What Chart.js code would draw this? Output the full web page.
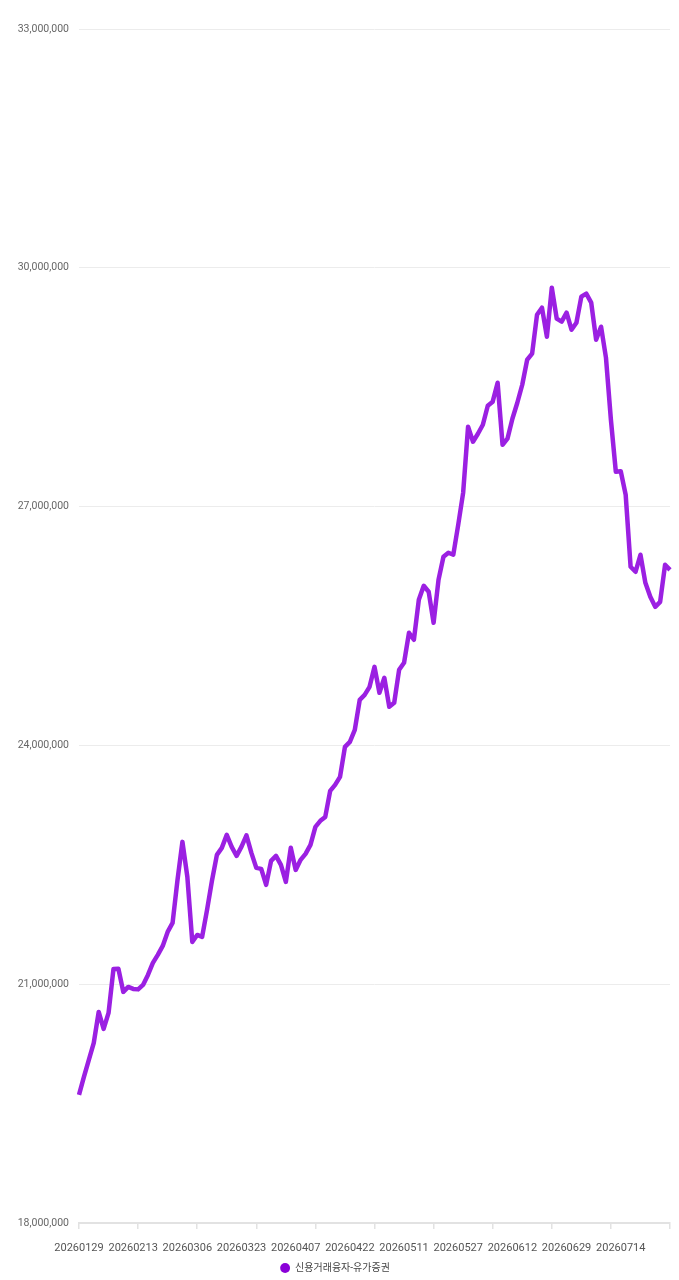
<!DOCTYPE html>
<html>
<head>
<meta charset="utf-8">
<script src="https://cdn.jsdelivr.net/npm/chart.js@4/dist/chart.umd.min.js"></script>
<style>
  html, body { margin: 0; padding: 0; background: #fff; overflow: hidden; }
  #wrap { width: 679px; height: 1280px; position: relative; }
  #c { display: block; }
</style>
</head>
<body>
<div id="wrap"><canvas id="c"></canvas></div>
<script>
const dates = [
  '20260129','20260130','20260202','20260203','20260204','20260205','20260206','20260209','20260210','20260211',
  '20260212','20260213','20260219','20260220','20260223','20260224','20260225','20260226','20260227','20260303',
  '20260304','20260305','20260306','20260309','20260310','20260311','20260312','20260313','20260316','20260317',
  '20260318','20260319','20260320','20260323','20260324','20260325','20260326','20260327','20260330','20260331',
  '20260401','20260402','20260403','20260406','20260407','20260408','20260409','20260410','20260413','20260414',
  '20260415','20260416','20260417','20260420','20260421','20260422','20260423','20260424','20260427','20260428',
  '20260429','20260430','20260504','20260506','20260507','20260508','20260511','20260512','20260513','20260514',
  '20260515','20260518','20260519','20260520','20260521','20260522','20260526','20260527','20260528','20260529',
  '20260601','20260602','20260604','20260605','20260608','20260609','20260610','20260611','20260612','20260615',
  '20260616','20260617','20260618','20260619','20260622','20260623','20260624','20260625','20260626','20260629',
  '20260630','20260701','20260702','20260703','20260706','20260707','20260708','20260709','20260710','20260713',
  '20260714','20260715','20260716','20260717','20260720','20260721','20260722','20260723','20260724','20260727',
  '20260728'
];
const creditLoanKospi = [
  19609000,19835000,20048000,20262000,20652000,20438000,20639000,21192000,21195000,20903000,
  20966000,20941000,20935000,20991000,21117000,21267000,21368000,21481000,21657000,21770000,
  22310000,22788000,22348000,21531000,21619000,21594000,21933000,22300000,22625000,22713000,
  22876000,22725000,22612000,22728000,22870000,22650000,22461000,22449000,22248000,22549000,
  22612000,22499000,22285000,22713000,22436000,22562000,22637000,22750000,22977000,23052000,
  23102000,23429000,23504000,23605000,23982000,24045000,24196000,24573000,24635000,24736000,
  24987000,24661000,24849000,24485000,24535000,24950000,25038000,25415000,25327000,25829000,
  26005000,25930000,25540000,26081000,26370000,26420000,26395000,26772000,27174000,28003000,
  27815000,27915000,28028000,28267000,28318000,28556000,27777000,27853000,28104000,28305000,
  28531000,28845000,28921000,29411000,29499000,29134000,29750000,29361000,29323000,29436000,
  29222000,29310000,29637000,29675000,29562000,29097000,29260000,28870000,28091000,27438000,
  27445000,27149000,26244000,26181000,26395000,26043000,25867000,25741000,25804000,26269000,
  26206000
];
const seriesName = '신용거래융자-유가증권';
const yMin = 18000000, yMax = 33000000, yStep = 3000000;
const labelEvery = 11;
const tickMarkEvery = 12;

const FONT = "Roboto, 'Noto Sans CJK KR', sans-serif";

const legendHeightFix = {
  id: 'legendHeightFix',
  beforeLayout(chart) {
    const lg = chart.legend;
    if (lg && !lg._patched) {
      const orig = lg.fit;
      lg.fit = function () { orig.call(this); this.height = 25; };
      lg._patched = true;
    }
  }
};

new Chart(document.getElementById('c'), {
  type: 'line',
  data: {
    labels: dates,
    datasets: [{
      label: seriesName,
      data: creditLoanKospi,
      borderColor: '#9b20e2',
      backgroundColor: '#8a00d8',
      borderWidth: 4.5,
      pointRadius: 0,
      pointHoverRadius: 0,
      tension: 0,
      borderJoinStyle: 'round',
      fill: false
    }]
  },
  plugins: [legendHeightFix],
  options: {
    responsive: true,
    maintainAspectRatio: false,
    animation: false,
    layout: { padding: { top: 29, right: 9, left: 0, bottom: 0 } },
    plugins: {
      tooltip: { enabled: false },
      legend: {
        position: 'bottom',
        labels: {
          usePointStyle: true,
          pointStyle: 'circle',
          boxHeight: 7,
          boxWidth: 10,
          padding: 8,
          color: '#444',
          font: { family: FONT, size: 10 },
          generateLabels: (chart) => Chart.defaults.plugins.legend.labels.generateLabels(chart).map(it => {
            it.lineWidth = 0; it.fillStyle = '#8a00d8'; it.strokeStyle = '#8a00d8'; return it;
          })
        }
      }
    },
    scales: {
      x: {
        type: 'category',
        afterFit: (s) => { s.height = 32; },
        grid: {
          drawOnChartArea: false,
          drawTicks: true,
          tickLength: 6,
          color: (ctx) => (ctx.index % tickMarkEvery === 0 ? '#e2e2e2' : 'rgba(0,0,0,0)'),
          lineWidth: 1.5
        },
        border: { display: true, color: '#e2e2e2', width: 2 },
        ticks: {
          autoSkip: false,
          maxRotation: 0,
          minRotation: 0,
          padding: 9,
          color: '#555',
          font: { family: FONT, size: 11, lineHeight: 21.2 / 11 },
          callback: function (v, i) { return i % labelEvery === 0 ? this.getLabelForValue(v) : ''; }
        }
      },
      y: {
        min: yMin,
        max: yMax,
        afterFit: (s) => { s.width = 79; },
        grid: { drawTicks: false, color: '#ececec', lineWidth: 1 },
        border: { display: false },
        ticks: {
          stepSize: yStep,
          padding: 10,
          color: '#666',
          font: { family: FONT, size: 10.5 },
          callback: (v) => Number(v).toLocaleString('en-US')
        }
      }
    }
  }
});
</script>
</body>
</html>
